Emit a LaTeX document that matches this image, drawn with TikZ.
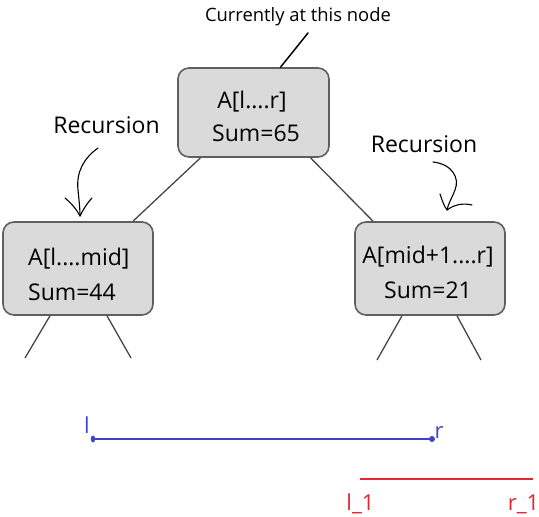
\documentclass[tikz,border=0pt]{standalone}
\usepackage{fontspec}
\setmainfont{Open Sans}
\usetikzlibrary{arrows.meta}
\definecolor{boxfill}{RGB}{218,218,218}
\definecolor{boxline}{RGB}{95,95,95}
\definecolor{conn}{RGB}{70,70,70}
\definecolor{myblue}{RGB}{66,66,200}
\definecolor{myred}{RGB}{228,40,50}
\tikzset{
  treebox/.style={draw=boxline, fill=boxfill, line width=1.6pt, rounded corners=11pt, inner sep=0pt},
  edge/.style={draw=conn, line width=1.3pt},
  lbl/.style={font=\fontsize{23}{26}\selectfont, inner sep=0pt, anchor=base},
  toplbl/.style={font=\fontsize{18.4}{22}\selectfont, inner sep=0pt, anchor=base},
  boxtxt/.style={font=\fontsize{23}{26}\selectfont, inner sep=0pt, anchor=base},
  segtxt/.style={font=\fontsize{22}{26}\selectfont, inner sep=0pt, anchor=base},
  hand/.style={draw=black, line width=1.1pt, line cap=round, line join=round},
}
\begin{document}
\begin{tikzpicture}[x=1pt,y=-1pt]
\useasboundingbox (0,0) rectangle (539,517);
% boxes
\node[treebox, minimum width=151pt, minimum height=89pt] (top) at (253.5,112.5) {};
\node[treebox, minimum width=150pt, minimum height=93pt] (left) at (78,268.5) {};
\node[treebox, minimum width=150pt, minimum height=93pt] (right) at (430,268.5) {};
% box texts
\node[boxtxt] (topa) at (252,108) {A[l....r]};
\node[boxtxt] (tops) at (256,141) {Sum=65};
\node[boxtxt, anchor=base west] (lefta) at (28,265) {A[l....mid]};
\node[boxtxt, anchor=base west] (lefts) at (28,300) {Sum=44};
\node[boxtxt] (righta) at (428,263) {A[mid+1....r]};
\node[boxtxt] (rights) at (428,298) {Sum=21};
% edges between boxes
\draw[edge] ([xshift=-53pt]top.south) -- ([xshift=55pt]left.north);
\draw[edge] ([xshift=57pt]top.south) -- ([xshift=-57pt]right.north);
% leaf stubs
\coordinate (l1) at (25,358);
\coordinate (l2) at (131,358);
\coordinate (r1) at (377,360);
\coordinate (r2) at (481,360);
\draw[edge] ([xshift=-28pt]left.south) -- (l1);
\draw[edge] ([xshift=29pt]left.south) -- (l2);
\draw[edge] ([xshift=-28pt]right.south) -- (r1);
\draw[edge] ([xshift=27pt]right.south) -- (r2);
% labels
\node[toplbl] (cur) at (298,21) {Currently at this node};
\node[lbl] (recl) at (106.5,133) {Recursion};
\node[lbl] (recr) at (424,152) {Recursion};
% pointer from "Currently"
\coordinate (curend) at (308,33);
\draw[hand, line width=1.5pt] (curend) -- ([xshift=27pt]top.north);
% left recursion arrow
\coordinate (la) at (98,148);
\coordinate (lt) at (80,216);
\draw[hand] (la) .. controls (84,158) and (76,172) .. (78,190) .. controls (79,200) and (80,208) .. (lt);
\draw[hand] (65,198) .. controls (72,204) and (77,210) .. (lt) .. controls (84,208) and (88,202) .. (92,198);
% right recursion arrow
\coordinate (ra) at (433,162);
\coordinate (rt) at (447,210);
\draw[hand] (ra) .. controls (452,164) and (460,178) .. (455,190) .. controls (452,198) and (448,204) .. (rt);
\draw[hand] (440,194) .. controls (442,200) and (444,206) .. (rt) .. controls (455,204) and (464,203) .. (472,205);
% blue segment
\node[segtxt, text=myblue] (bl) at (87,433) {l};
\node[segtxt, text=myblue] (br) at (439,438) {r};
\coordinate (b1) at (93,439);
\coordinate (b2) at (432,439);
\draw[myblue, line width=2.4pt] (b1) -- (b2);
\fill[myblue] (b1) ellipse (2.2pt and 3.5pt);
\fill[myblue] (b2) ellipse (3pt and 3pt);
% red segment
\coordinate (c1) at (360,479);
\coordinate (c2) at (533,479);
\draw[myred, line width=2.2pt] (c1) -- (c2);
\node[segtxt, text=myred] (rl) at (360.5,510) {l\_1};
\node[segtxt, text=myred] (rr) at (523.5,510) {r\_1};
\end{tikzpicture}
\end{document}
